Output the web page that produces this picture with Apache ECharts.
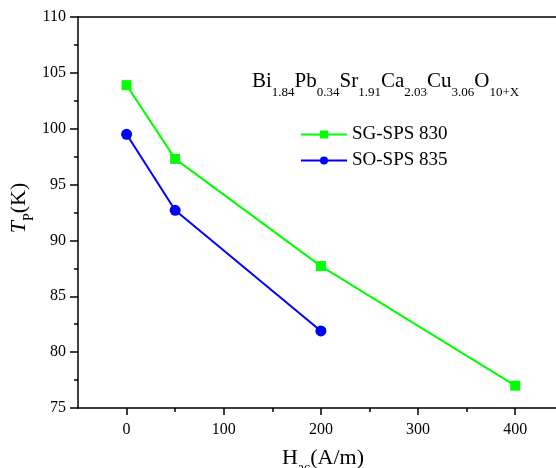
<!DOCTYPE html>
<html>
<head>
<meta charset="utf-8">
<script src="https://cdn.jsdelivr.net/npm/echarts@6/dist/echarts.min.js"></script>
<style>
  html, body { margin: 0; padding: 0; background: #fff; }
  #chart { width: 556px; height: 468px; }
</style>
</head>
<body>
<div id="chart"></div>
<script>
  // data
  const sgHac = [0, 50, 200, 400]
  const sgTp = [103.9, 97.3, 87.7, 77.0]
  const soHac = [0, 50, 200]
  const soTp = [99.5, 92.7, 81.9]
  const xMajor = [0, 100, 200, 300, 400]
  const xMinor = [50, 150, 250, 350]

  const FONT = 'Liberation Serif'
  const X_MIN = -50, X_MAX = 442 // right side of the frame is cut off in the original

  const chart = echarts.init(document.getElementById('chart'))

  const sub = { fontSize: 13, fontFamily: FONT, color: '#000', verticalAlign: 'bottom' }
  const main = { fontSize: 21, fontFamily: FONT, color: '#000', verticalAlign: 'bottom', padding: [0, 0, 7, 0] }
  const axLine = { color: '#000', width: 1.5 }

  chart.setOption({
    animation: false,
    grid: { left: 78, top: 17, right: 0, bottom: 60, outerBoundsMode: 'none', containLabel: false },
    legend: {
      orient: 'vertical',
      left: 295, top: 120,
      itemWidth: 46, itemHeight: 10, itemGap: 7,
      textStyle: { fontFamily: FONT, fontSize: 19, color: '#000' },
      data: ['SG-SPS 830', 'SO-SPS 835']
    },
    graphic: [{
      type: 'text',
      left: 252, top: 71,
      style: {
        text: '{m|Bi}{s|1.84}{m|Pb}{s|0.34}{m|Sr}{s|1.91}{m|Ca}{s|2.03}{m|Cu}{s|3.06}{m|O}{s|10+X}',
        rich: { m: main, s: sub }
      }
    }, {
      // y axis title, drawn by hand so it can sit where the original has it
      type: 'text',
      x: 22, y: 208,
      rotation: Math.PI / 2,
      style: {
        text: '{i|T}{s|P}{n|(K)}',
        align: 'center',
        verticalAlign: 'middle',
        rich: {
          i: { fontSize: 22, fontFamily: FONT, fontStyle: 'italic', color: '#000', verticalAlign: 'bottom', padding: [0, 0, 6, 0] },
          s: { fontSize: 14, fontFamily: FONT, color: '#000', verticalAlign: 'bottom' },
          n: { fontSize: 22, fontFamily: FONT, color: '#000', verticalAlign: 'bottom', padding: [0, 0, 6, 0] }
        }
      }
    }],
    xAxis: [{
      type: 'value',
      min: X_MIN, max: X_MAX,
      name: '{h|H}{s|ac}{h|(A/m)}',
      nameLocation: 'middle',
      nameGap: 39,
      nameTextStyle: {
        padding: [0, 0, 0, 12],
        rich: {
          h: { fontSize: 22, fontFamily: FONT, color: '#000', verticalAlign: 'bottom', padding: [0, 0, 6, 0] },
          s: { fontSize: 14, fontFamily: FONT, color: '#000', verticalAlign: 'bottom' }
        }
      },
      axisLine: { onZero: false, lineStyle: axLine },
      axisTick: { customValues: xMajor, length: 7, lineStyle: axLine },
      axisLabel: { customValues: xMajor, margin: 14, fontFamily: FONT, fontSize: 16, color: '#000' },
      splitLine: { show: false }
    }, {
      // minor ticks on the bottom axis
      type: 'value',
      position: 'bottom',
      min: X_MIN, max: X_MAX,
      axisLine: { show: false, onZero: false },
      axisTick: { customValues: xMinor, length: 4, lineStyle: axLine },
      axisLabel: { show: false },
      splitLine: { show: false }
    }, {
      // top frame line
      type: 'value',
      position: 'top',
      min: X_MIN, max: X_MAX,
      axisLine: { show: true, onZero: false, lineStyle: axLine },
      axisTick: { show: false },
      axisLabel: { show: false },
      splitLine: { show: false }
    }],
    yAxis: {
      type: 'value',
      min: 75, max: 110, interval: 5,
      axisLine: { show: true, onZero: false, lineStyle: axLine },
      axisTick: { show: true, length: 8, lineStyle: axLine },
      minorTick: { show: true, splitNumber: 2, length: 4, lineStyle: axLine },
      axisLabel: { margin: 12, fontFamily: FONT, fontSize: 16, color: '#000' },
      splitLine: { show: false }
    },
    series: [{
      name: 'SG-SPS 830',
      type: 'line',
      data: sgHac.map((x, i) => [x, sgTp[i]]),
      symbol: 'rect',
      symbolSize: 10,
      lineStyle: { color: '#00ff00', width: 2 },
      itemStyle: { color: '#00ff00' }
    }, {
      name: 'SO-SPS 835',
      type: 'line',
      data: soHac.map((x, i) => [x, soTp[i]]),
      symbol: 'circle',
      symbolSize: 11,
      lineStyle: { color: '#0000ff', width: 2 },
      itemStyle: { color: '#0000ff' }
    }]
  })
</script>
</body>
</html>
